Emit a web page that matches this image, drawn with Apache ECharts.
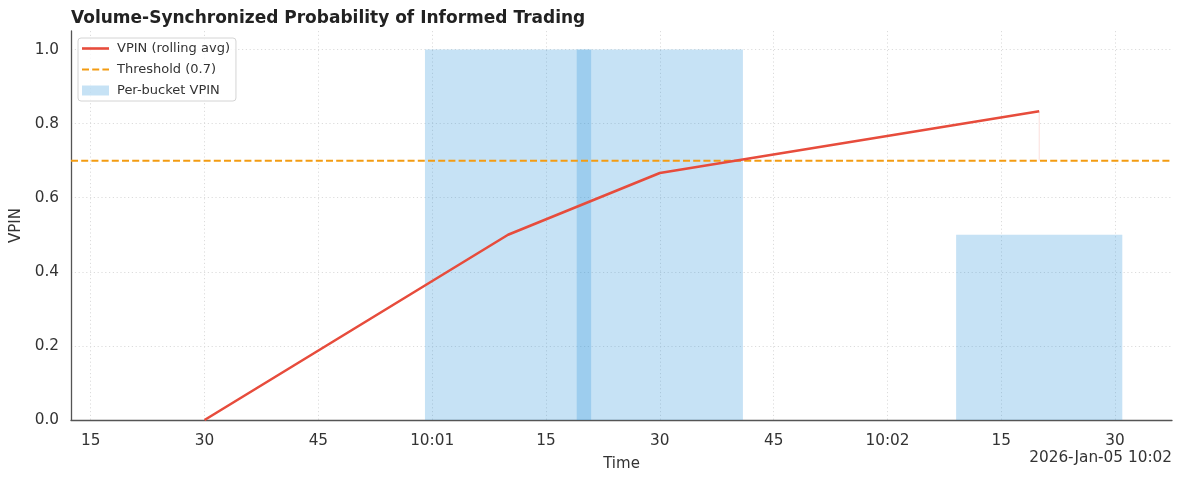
<!DOCTYPE html>
<html>
<head>
<meta charset="utf-8">
<script src="https://cdn.jsdelivr.net/npm/echarts@6/dist/echarts.min.js"></script>
<style>
  html, body { margin: 0; padding: 0; background: #fff; }
  #vpin-chart { width: 1182px; height: 482px; }
</style>
</head>
<body>
<div id="vpin-chart"></div>
<script>
  // bucket times in seconds after 2026-01-05 10:00:00
  const bucketTimes = [30, 70, 90, 140]
  const bucketVpin = [0, 1, 1, 0.5]
  const rollingVpin = [0, 0.5, 0.6667, 0.8333]
  const threshold = 0.7
  const xTicks = [15, 30, 45, 60, 75, 90, 105, 120, 135, 150]
  const yTicks = [0, 0.2, 0.4, 0.6, 0.8, 1.0]
  const bucketWidth = 21.9
  const xMin = 12.4
  const xMax = 157.5

  const font = 'DejaVu Sans'
  const chart = echarts.init(document.getElementById('vpin-chart'))

  const rollingData = bucketTimes.map((t, i) => [t, rollingVpin[i]])
  const bucketData = bucketTimes.map((t, i) => [t, bucketVpin[i]])
  const last = bucketTimes.length - 1

  // legend glyphs: solid line and dashed line
  const solidIcon = 'path://M0,0H27V2.6H0Z'
  const dashIcon = 'path://M0,0H7V2H0Z M10.2,0H17.2V2H10.2Z M20.4,0H27V2H20.4Z'

  const option = {
    animation: false,
    backgroundColor: '#fff',
    title: {
      text: 'Volume-Synchronized Probability of Informed Trading',
      left: 66,
      top: 5,
      textStyle: { fontFamily: font, fontWeight: 'bold', fontSize: 17, color: '#222' }
    },
    grid: { left: 71, right: 10, top: 31, bottom: 62 },
    legend: {
      orient: 'vertical',
      left: 78,
      top: 38,
      padding: [4, 6, 4, 4],
      itemGap: 8,
      itemWidth: 27,
      itemHeight: 10,
      backgroundColor: 'rgba(255,255,255,0.8)',
      borderColor: '#d4d4d4',
      borderWidth: 1,
      borderRadius: 3,
      textStyle: { fontFamily: font, fontSize: 13, color: '#333', padding: [0, 0, 0, 3] },
      data: [
        { name: 'VPIN (rolling avg)', icon: solidIcon, itemStyle: { color: '#e74c3c', borderWidth: 0 } },
        { name: 'Threshold (0.7)', icon: dashIcon, itemStyle: { color: '#f39c12', borderWidth: 0 } },
        { name: 'Per-bucket VPIN', icon: 'rect', itemStyle: { color: 'rgba(52,152,219,0.28)', borderWidth: 0 } }
      ]
    },
    xAxis: {
      type: 'value',
      min: xMin,
      max: xMax,
      name: 'Time',
      nameLocation: 'middle',
      nameGap: 37,
      nameTextStyle: { fontFamily: font, fontSize: 15, color: '#333' },
      axisLine: { show: true, lineStyle: { color: '#555', width: 1.3 } },
      axisTick: { show: false, customValues: xTicks },
      axisLabel: {
        customValues: xTicks,
        margin: 14,
        fontFamily: font,
        fontSize: 15.3,
        color: '#333',
        formatter: v => (v % 60 === 0 ? '10:0' + (v / 60) : String(v % 60))
      },
      splitLine: { show: true, lineStyle: { color: '#dcdcdc', width: 1, type: [1.2, 2.6] } }
    },
    yAxis: {
      type: 'value',
      min: 0,
      max: 1.05,
      interval: 0.2,
      name: 'VPIN',
      nameLocation: 'middle',
      nameGap: 42,
      nameTextStyle: { fontFamily: font, fontSize: 15, color: '#333' },
      axisLine: { show: true, lineStyle: { color: '#555', width: 1.3 } },
      axisTick: { show: false },
      axisLabel: {
        customValues: yTicks,
        margin: 12,
        padding: [3, 0, 0, 0],
        fontFamily: font,
        fontSize: 15.3,
        color: '#333',
        formatter: v => v.toFixed(1)
      },
      splitLine: { show: true, showMaxLine: false, lineStyle: { color: '#dcdcdc', width: 1, type: [1.2, 2.6] } }
    },
    graphic: [
      {
        type: 'text',
        right: 10,
        top: 451,
        style: { text: '2026-Jan-05 10:02', font: '15.3px "DejaVu Sans"', fill: '#333' }
      }
    ],
    series: [
      {
        name: 'Per-bucket VPIN',
        type: 'custom',
        z: 1,
        data: bucketData,
        encode: { x: 0, y: 1 },
        renderItem: function (params, api) {
          const t = api.value(0)
          const v = api.value(1)
          const p0 = api.coord([t - bucketWidth / 2, v])
          const p1 = api.coord([t + bucketWidth / 2, 0])
          return {
            type: 'rect',
            shape: { x: p0[0], y: p0[1], width: p1[0] - p0[0], height: p1[1] - p0[1] },
            style: { fill: 'rgba(52,152,219,0.28)' }
          }
        }
      },
      {
        name: 'fill',
        type: 'line',
        z: 2,
        symbol: 'none',
        silent: true,
        data: [[bucketTimes[last], threshold], [bucketTimes[last], rollingVpin[last]]],
        lineStyle: { color: 'rgba(231,76,60,0.18)', width: 1 }
      },
      {
        name: 'VPIN (rolling avg)',
        type: 'line',
        z: 4,
        symbol: 'none',
        data: rollingData,
        itemStyle: { color: '#e74c3c' },
        lineStyle: { color: '#e74c3c', width: 2.6 }
      },
      {
        name: 'Threshold (0.7)',
        type: 'line',
        z: 3,
        symbol: 'none',
        data: [[xMin, threshold], [xMax, threshold]],
        itemStyle: { color: '#f39c12' },
        lineStyle: { color: '#f39c12', width: 2, type: [7, 3.2] }
      }
    ]
  }

  chart.setOption(option)
</script>
</body>
</html>
